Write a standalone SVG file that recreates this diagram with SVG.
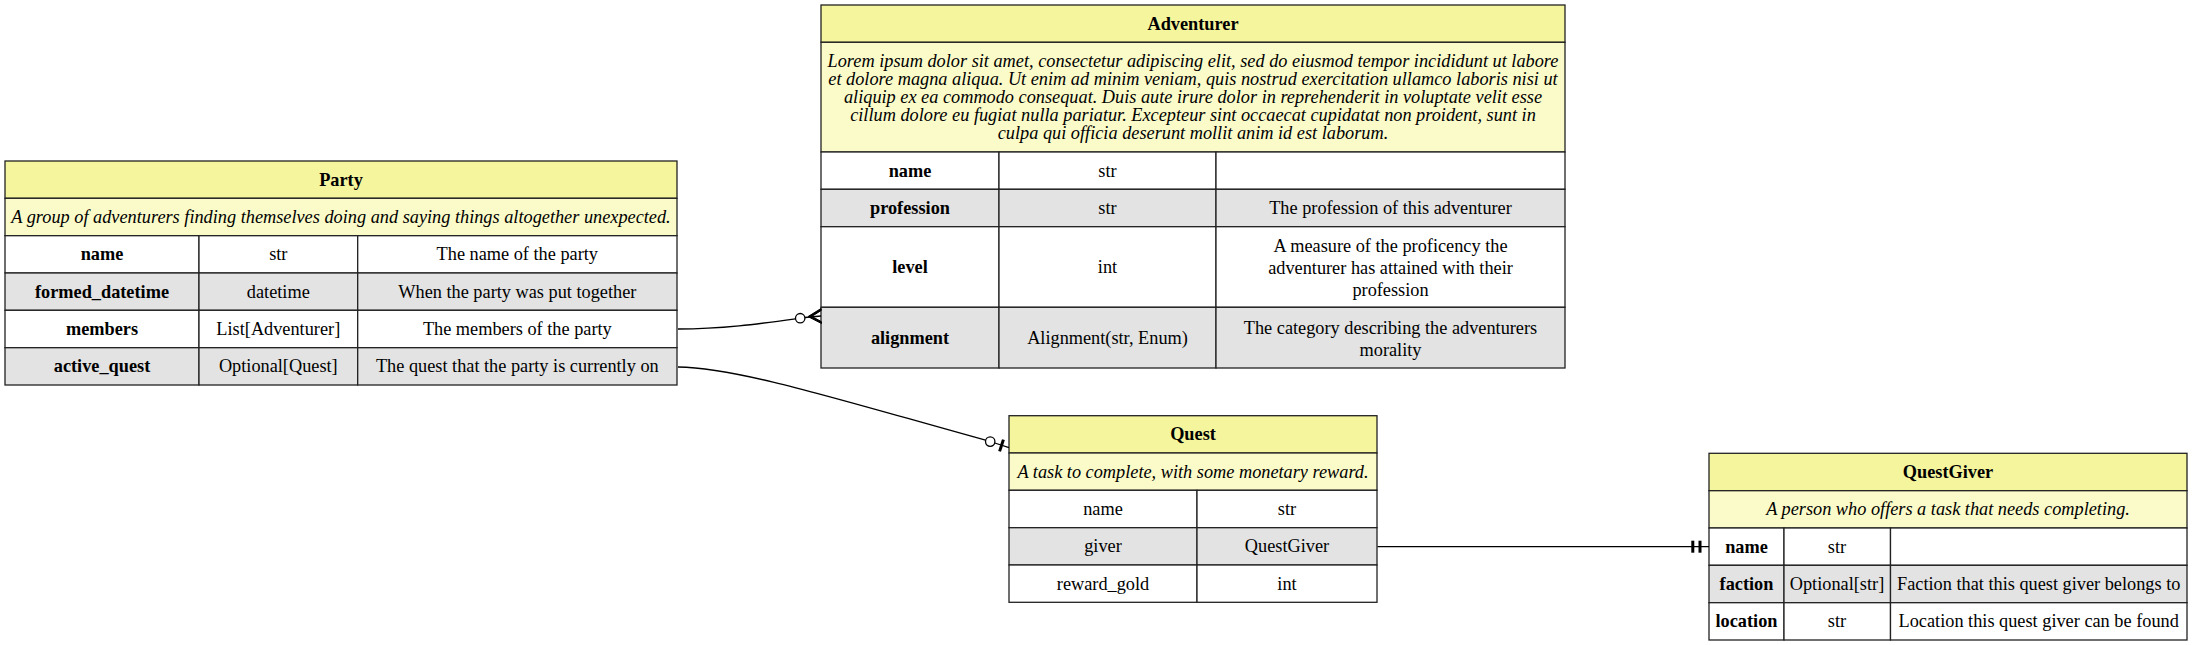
<svg xmlns="http://www.w3.org/2000/svg" width="2196" height="645" viewBox="0 0 2196 645">
<style>
text{font-family:"Liberation Serif","Times New Roman",serif;font-size:18.3px;fill:#000;text-anchor:middle}
.b{font-weight:bold}
.i{font-style:italic}
.hd{fill:#f4f59c;stroke:#222;stroke-width:1.3}
.ds{fill:#fbfbca;stroke:#222;stroke-width:1.3}
.w{fill:#fff;stroke:#222;stroke-width:1.3}
.g{fill:#e3e3e3;stroke:#222;stroke-width:1.3}
.e{fill:none;stroke:#000;stroke-width:1.3}
.oc{fill:#fff;stroke:#000;stroke-width:1.3}
</style>
<rect width="2196" height="645" fill="#fff"/>
<g id="Party">
<rect class="hd" x="5" y="161" width="672" height="37.3"/>
<rect class="ds" x="5" y="198.3" width="672" height="37.4"/>
<rect class="w" x="5" y="235.7" width="194" height="37.3"/><rect class="w" x="199" y="235.7" width="158.7" height="37.3"/><rect class="w" x="357.7" y="235.7" width="319.3" height="37.3"/>
<rect class="g" x="5" y="273" width="194" height="37.3"/><rect class="g" x="199" y="273" width="158.7" height="37.3"/><rect class="g" x="357.7" y="273" width="319.3" height="37.3"/>
<rect class="w" x="5" y="310.3" width="194" height="37.4"/><rect class="w" x="199" y="310.3" width="158.7" height="37.4"/><rect class="w" x="357.7" y="310.3" width="319.3" height="37.4"/>
<rect class="g" x="5" y="347.7" width="194" height="37.3"/><rect class="g" x="199" y="347.7" width="158.7" height="37.3"/><rect class="g" x="357.7" y="347.7" width="319.3" height="37.3"/>
<text class="b" x="341" y="185.7">Party</text>
<text class="i" x="341" y="223">A group of adventurers finding themselves doing and saying things altogether unexpected.</text>
<text class="b" x="102" y="260.3">name</text><text x="278.3" y="260.3">str</text><text x="517.3" y="260.3">The name of the party</text>
<text class="b" x="102" y="297.7">formed_datetime</text><text x="278.3" y="297.7">datetime</text><text x="517.3" y="297.7">When the party was put together</text>
<text class="b" x="102" y="335">members</text><text x="278.3" y="335">List[Adventurer]</text><text x="517.3" y="335">The members of the party</text>
<text class="b" x="102" y="372.3">active_quest</text><text x="278.3" y="372.3">Optional[Quest]</text><text x="517.3" y="372.3">The quest that the party is currently on</text>
</g>
<g id="Adventurer">
<rect class="hd" x="821" y="5" width="744" height="37.3"/>
<rect class="ds" x="821" y="42.3" width="744" height="109.7"/>
<rect class="w" x="821" y="152" width="178" height="37.3"/><rect class="w" x="999" y="152" width="217" height="37.3"/><rect class="w" x="1216" y="152" width="349" height="37.3"/>
<rect class="g" x="821" y="189.3" width="178" height="37.4"/><rect class="g" x="999" y="189.3" width="217" height="37.4"/><rect class="g" x="1216" y="189.3" width="349" height="37.4"/>
<rect class="w" x="821" y="226.7" width="178" height="80.6"/><rect class="w" x="999" y="226.7" width="217" height="80.6"/><rect class="w" x="1216" y="226.7" width="349" height="80.6"/>
<rect class="g" x="821" y="307.3" width="178" height="60.7"/><rect class="g" x="999" y="307.3" width="217" height="60.7"/><rect class="g" x="1216" y="307.3" width="349" height="60.7"/>
<text class="b" x="1193" y="29.7">Adventurer</text>
<text class="i" x="1193" y="66.8">Lorem ipsum dolor sit amet, consectetur adipiscing elit, sed do eiusmod tempor incididunt ut labore</text>
<text class="i" x="1193" y="84.9">et dolore magna aliqua. Ut enim ad minim veniam, quis nostrud exercitation ullamco laboris nisi ut</text>
<text class="i" x="1193" y="103">aliquip ex ea commodo consequat. Duis aute irure dolor in reprehenderit in voluptate velit esse</text>
<text class="i" x="1193" y="121.1">cillum dolore eu fugiat nulla pariatur. Excepteur sint occaecat cupidatat non proident, sunt in</text>
<text class="i" x="1193" y="139.2">culpa qui officia deserunt mollit anim id est laborum.</text>
<text class="b" x="910" y="176.7">name</text><text x="1107.5" y="176.7">str</text>
<text class="b" x="910" y="214">profession</text><text x="1107.5" y="214">str</text><text x="1390.5" y="214">The profession of this adventurer</text>
<text class="b" x="910" y="273">level</text><text x="1107.5" y="273">int</text>
<text x="1390.5" y="252.2">A measure of the proficency the</text>
<text x="1390.5" y="273.8">adventurer has attained with their</text>
<text x="1390.5" y="295.5">profession</text>
<text class="b" x="910" y="343.7">alignment</text><text x="1107.5" y="343.7">Alignment(str, Enum)</text>
<text x="1390.5" y="333.8">The category describing the adventurers</text>
<text x="1390.5" y="355.5">morality</text>
</g>
<g id="Quest">
<rect class="hd" x="1009" y="415.7" width="368" height="37.3"/>
<rect class="ds" x="1009" y="453" width="368" height="37.3"/>
<rect class="w" x="1009" y="490.3" width="188" height="37.4"/><rect class="w" x="1197" y="490.3" width="180" height="37.4"/>
<rect class="g" x="1009" y="527.7" width="188" height="37.3"/><rect class="g" x="1197" y="527.7" width="180" height="37.3"/>
<rect class="w" x="1009" y="565" width="188" height="37.3"/><rect class="w" x="1197" y="565" width="180" height="37.3"/>
<text class="b" x="1193" y="440.3">Quest</text>
<text class="i" x="1193" y="477.7">A task to complete, with some monetary reward.</text>
<text x="1103" y="515">name</text><text x="1287" y="515">str</text>
<text x="1103" y="552.3">giver</text><text x="1287" y="552.3">QuestGiver</text>
<text x="1103" y="589.7">reward_gold</text><text x="1287" y="589.7">int</text>
</g>
<g id="QuestGiver">
<rect class="hd" x="1709" y="453.3" width="478" height="37.4"/>
<rect class="ds" x="1709" y="490.7" width="478" height="37.3"/>
<rect class="w" x="1709" y="528" width="75" height="37.3"/><rect class="w" x="1784" y="528" width="106.5" height="37.3"/><rect class="w" x="1890.5" y="528" width="296.5" height="37.3"/>
<rect class="g" x="1709" y="565.3" width="75" height="37.4"/><rect class="g" x="1784" y="565.3" width="106.5" height="37.4"/><rect class="g" x="1890.5" y="565.3" width="296.5" height="37.4"/>
<rect class="w" x="1709" y="602.7" width="75" height="37.3"/><rect class="w" x="1784" y="602.7" width="106.5" height="37.3"/><rect class="w" x="1890.5" y="602.7" width="296.5" height="37.3"/>
<text class="b" x="1948" y="478">QuestGiver</text>
<text class="i" x="1948" y="515.3">A person who offers a task that needs completing.</text>
<text class="b" x="1746.5" y="552.7">name</text><text x="1837" y="552.7">str</text>
<text class="b" x="1746.5" y="590">faction</text><text x="1837" y="590">Optional[str]</text><text x="2038.7" y="590">Faction that this quest giver belongs to</text>
<text class="b" x="1746.5" y="627.3">location</text><text x="1837" y="627.3">str</text><text x="2038.7" y="627.3">Location this quest giver can be found</text>
</g>
<g id="connectors">
<path class="e" d="M678,329 C722,329 758,324 795.5,318.8"/>
<circle class="oc" cx="800.2" cy="318.2" r="4.7"/>
<path class="e" d="M805,317.5 L821,316"/>
<path d="M821,308.5 L808,316.6 L821.5,323.5 L821.3,321.6 L811.8,316.4 L821.2,310.5 Z" fill="#000" stroke="#000" stroke-width="1"/>
<path class="e" d="M678,367 C740,368 840,400 985.5,440.2"/>
<circle class="oc" cx="990.2" cy="441.6" r="4.7"/>
<path class="e" d="M994.8,443 L1009,447.6"/>
<path d="M1003.4,439.6 L999.6,451.4" stroke="#000" stroke-width="3" fill="none"/>
<path class="e" d="M1377.5,546.7 H1709"/>
<rect x="1691.3" y="540.7" width="3" height="12" fill="#000"/>
<rect x="1698.5" y="540.7" width="3" height="12" fill="#000"/>
</g>
</svg>
